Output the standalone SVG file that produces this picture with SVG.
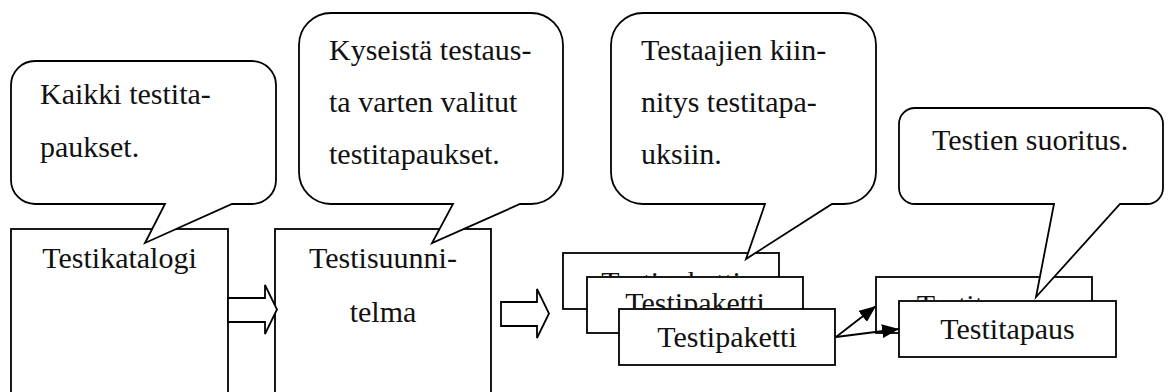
<svg xmlns="http://www.w3.org/2000/svg" width="1170" height="392" viewBox="0 0 1170 392">
  <style>
    .box { fill: #fff; stroke: #000; stroke-width: 1.8; }
    .callout { fill: #fff; stroke: #000; stroke-width: 1.8; stroke-linejoin: miter; }
    .block { fill: #fff; stroke: #000; stroke-width: 1.8; }
    .txt { font-family: "Liberation Serif", "Times New Roman", serif; font-size: 30px; fill: #111; }
    .mid { text-anchor: middle; }
    .conn { stroke: #000; stroke-width: 1.8; fill: none; }
  </style>
  <defs>
    <marker id="head" markerUnits="userSpaceOnUse" markerWidth="18" markerHeight="14" refX="17" refY="7" orient="auto">
      <path d="M0,0 L17,7 L0,14 Z" fill="#000"/>
    </marker>
    <!-- visible strips of the labels on the stacked back cards -->
    <clipPath id="clip-pk1"><rect x="564" y="254" width="214" height="22"/></clipPath>
    <clipPath id="clip-pk2"><rect x="588" y="278" width="214" height="30"/></clipPath>
    <clipPath id="clip-tc1"><rect x="877" y="278" width="214" height="22"/></clipPath>
  </defs>

  <rect width="1170" height="392" fill="#fff"/>

  <!-- catalogue -->
  <g id="testikatalogi">
    <rect class="box" x="11" y="229" width="217" height="180"/>
    <text class="txt mid" x="119.5" y="268">Testikatalogi</text>
  </g>

  <!-- test plan -->
  <g id="testisuunnitelma">
    <rect class="box" x="275" y="229" width="216" height="180"/>
    <text class="txt mid" x="383" y="268">Testisuunni-</text>
    <text class="txt mid" x="383" y="322">telma</text>
  </g>

  <!-- stacked test packages -->
  <g id="testipaketti-1">
    <rect class="box" x="563" y="253" width="216" height="56"/>
    <text class="txt mid" x="671" y="292" clip-path="url(#clip-pk1)">Testipaketti</text>
  </g>
  <g id="testipaketti-2">
    <rect class="box" x="587" y="277" width="216" height="56"/>
    <text class="txt mid" x="695" y="313" clip-path="url(#clip-pk2)">Testipaketti</text>
  </g>
  <g id="testipaketti-3">
    <rect class="box" x="619" y="309" width="216" height="56"/>
    <text class="txt mid" x="727" y="347">Testipaketti</text>
  </g>

  <!-- stacked test cases -->
  <g id="testitapaus-1">
    <rect class="box" x="876" y="277" width="216" height="56"/>
    <text class="txt mid" x="984" y="315" clip-path="url(#clip-tc1)">Testitapaus</text>
  </g>
  <g id="testitapaus-2">
    <rect class="box" x="899" y="301" width="217" height="56"/>
    <text class="txt mid" x="1007.5" y="339">Testitapaus</text>
  </g>

  <!-- speech bubbles -->
  <g id="callout-kaikki">
    <path class="callout" d="M35,61 H252 A24,24 0 0 1 276,85 V180 A24,24 0 0 1 252,204 H232 L145,243 L165,204 H35 A24,24 0 0 1 11,180 V85 A24,24 0 0 1 35,61 Z"/>
    <text class="txt" x="40" y="104">Kaikki testita-</text>
    <text class="txt" x="40" y="157">paukset.</text>
  </g>
  <g id="callout-kyseista">
    <path class="callout" d="M331,13 H531 A32,32 0 0 1 563,45 V172 A32,32 0 0 1 531,204 H520 L432,243 L453,204 H331 A32,32 0 0 1 299,172 V45 A32,32 0 0 1 331,13 Z"/>
    <text class="txt" x="329" y="60">Kyseistä testaus-</text>
    <text class="txt" x="329" y="112">ta varten valitut</text>
    <text class="txt" x="329" y="164">testitapaukset.</text>
  </g>
  <g id="callout-testaajien">
    <path class="callout" d="M643,13 H844 A32,32 0 0 1 876,45 V172 A32,32 0 0 1 844,204 H832 L746,259 L765,204 H643 A32,32 0 0 1 611,172 V45 A32,32 0 0 1 643,13 Z"/>
    <text class="txt" x="641" y="60">Testaajien kiin-</text>
    <text class="txt" x="641" y="112">nitys testitapa-</text>
    <text class="txt" x="641" y="164">uksiin.</text>
  </g>
  <g id="callout-suoritus">
    <path class="callout" d="M915,108 H1147 A16,16 0 0 1 1163,124 V188 A16,16 0 0 1 1147,204 H1120 L1036,297 L1054,204 H915 A16,16 0 0 1 899,188 V124 A16,16 0 0 1 915,108 Z"/>
    <text class="txt" x="932" y="150">Testien suoritus.</text>
  </g>

  <!-- connectors -->
  <g id="connectors">
    <polygon class="block" points="228,298 265,298 265,285 277,309.5 265,334 265,322 228,322"/>
    <polygon class="block" points="501,302 537,302 537,289 549,313.5 537,338 537,326 501,326"/>
    <line class="conn" x1="836" y1="337" x2="876" y2="306" marker-end="url(#head)"/>
    <line class="conn" x1="836" y1="337" x2="899" y2="329" marker-end="url(#head)"/>
  </g>
</svg>
